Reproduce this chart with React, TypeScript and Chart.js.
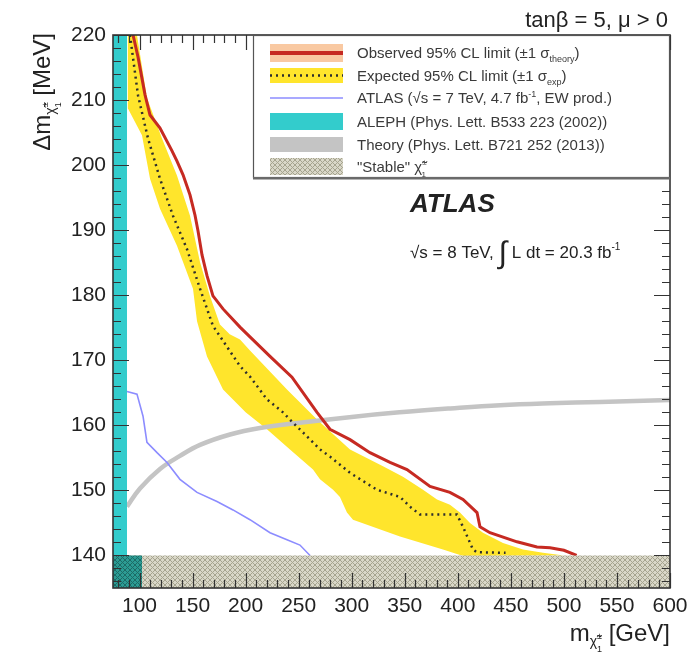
import React, { useEffect, useRef } from 'react';
import { Chart, registerables } from 'chart.js';

Chart.register(...registerables);

const FONT = '"Liberation Sans", Arial, Helvetica, sans-serif';

// ---- axis ranges & tick labels ----
const X_MIN = 75;
const X_MAX = 600;
const Y_MIN = 135;
const Y_MAX = 220;
const xTickLabels = [100, 150, 200, 250, 300, 350, 400, 450, 500, 550, 600];
const yTickLabels = [140, 150, 160, 170, 180, 190, 200, 210, 220];

// ---- observed 95% CL limit ----
const observedMass = [93.9, 98.6, 105.2, 109.9, 119.3, 130.6, 135.3, 141, 147.6, 152.3, 155.1, 158.9, 163.6, 169.2, 178.7, 194.7, 204.1, 223.0, 243.7, 267.3, 279.5, 298.4, 317.2, 336.1, 352.1, 373.8, 392.6, 404.9, 418.1, 420.9, 430.3, 455.8, 474.6, 486.9, 500, 512];
const observedDeltaM = [220, 216.6, 210.8, 207.7, 205.7, 202.2, 200.6, 198.5, 195.4, 192.3, 189.9, 186.2, 183.0, 179.9, 177.9, 175.1, 173.6, 170.6, 167.4, 162.0, 159.4, 157.8, 155.8, 154.3, 153.2, 150.6, 149.7, 148.6, 146.6, 144.4, 143.5, 142.1, 141.3, 141.2, 140.8, 140];

// ---- expected 95% CL limit ----
const expectedMass = [91, 98.6, 108, 119.3, 131.6, 144.7, 157, 169.2, 194.7, 204.1, 220.1, 235.2, 244.7, 254.1, 270.1, 279.5, 298.4, 323.8, 345.5, 354.9, 364.3, 399.2, 404.9, 414.3, 418, 445];
const expectedDeltaM = [220, 210.7, 204.1, 197.9, 192.2, 187.1, 181, 175.3, 169.1, 167.5, 164.0, 162.0, 160.4, 158.9, 156.3, 155.2, 152.7, 150.1, 149.0, 147.5, 146.3, 146.3, 144.4, 140.9, 140.5, 140.4];

// ---- expected +-1 sigma band edges ----
const bandUpperMass = [97.6, 107, 121.2, 135.3, 147.6, 157, 166.4, 175.8, 185, 194.7, 204.1, 239, 267.3, 298.4, 329.5, 348.3, 367.2, 380.4, 392.6, 402, 411.5, 423.7, 442.6, 461.4, 480.3, 500];
const bandUpperDeltaM = [220, 210.3, 204.1, 198.4, 192.2, 185.1, 179.9, 175.5, 174, 173.2, 171.5, 165.5, 160.9, 156.3, 153.7, 152.1, 150.1, 148.6, 147.8, 146.6, 145, 143.5, 141.9, 140.9, 140.4, 140];
const bandLowerMass = [89, 89.1, 102.3, 109.9, 119.3, 135.3, 150.4, 154.2, 163.6, 178.7, 200, 220.1, 241.8, 263.5, 270.1, 282.4, 288.9, 295.5, 301.2, 345.5, 386, 405];
const bandLowerDeltaM = [220, 208.7, 204.6, 197.9, 193.3, 187.6, 181, 176, 170.6, 165.5, 162, 159.4, 156.3, 153.2, 151.7, 150.1, 149.0, 146.6, 145.5, 142.9, 140.9, 139.9];

// ---- ATLAS 7 TeV EW production limit ----
const atlas7Mass = [88.2, 97.6, 103.3, 107, 116.5, 125.9, 138.1, 154.2, 173, 188.1, 204.1, 223, 239, 251.2, 260.7];
const atlas7DeltaM = [165.2, 164.8, 161.4, 157.4, 155.8, 154.3, 151.7, 149.7, 148.3, 147, 145.5, 143.5, 142.4, 141.6, 140];

// ---- theory curve ----
const theoryMass = [88.2, 100.4, 119.3, 138.1, 157, 185.3, 213.5, 251, 300, 345, 393, 440, 487, 534, 600];
const theoryDeltaM = [147.5, 150.3, 153.3, 155.3, 157.0, 158.6, 159.6, 160.4, 161.3, 162, 162.6, 163.1, 163.4, 163.6, 163.9];

// ---- excluded regions ----
const alephLimitMass = 88.2;
const stableDeltaM = 140;
const stableDarkMass = 102.5;

// ---- legend labels ----
const legendLabels = [
  'Observed 95% CL limit (±1 σ',
  'Expected 95% CL limit (±1 σ',
  'ATLAS (√s = 7 TeV, 4.7 fb',
  'ALEPH (Phys. Lett. B533 223 (2002))',
  'Theory (Phys. Lett. B721 252 (2013))',
  '"Stable" χ̃',
];

const COLORS = {
  red: '#c62a22',
  peach: '#f9c9a2',
  yellow: '#ffe52c',
  dots: '#2d2d2d',
  blue: '#8c8cff',
  cyan: '#33cccc',
  gray: '#c4c4c4',
  hatchBg: '#d9d7c8',
  hatchFg: '#a6a48f',
  darkBg: '#2c9c94',
  darkFg: '#1c6b66',
  text: '#222',
};

const zip = (xs: number[], ys: number[]) => xs.map((x, i) => ({ x, y: ys[i] }));

function makeHatch(bg: string, fg: string): CanvasPattern {
  const c = document.createElement('canvas');
  c.width = 5;
  c.height = 5;
  const g = c.getContext('2d')!;
  g.fillStyle = bg;
  g.fillRect(0, 0, 5, 5);
  g.strokeStyle = fg;
  g.lineWidth = 1;
  g.beginPath();
  g.moveTo(0, 5);
  g.lineTo(5, 0);
  g.moveTo(0, 0);
  g.lineTo(5, 5);
  g.stroke();
  return g.createPattern(c, 'repeat')!;
}

type Part = { t: string; size: number; dy?: number; dx?: number; bold?: boolean; italic?: boolean };

function fontOf(p: Part) {
  return `${p.italic ? 'italic ' : ''}${p.bold ? 'bold ' : ''}${p.size}px ${FONT}`;
}

function richWidth(ctx: CanvasRenderingContext2D, parts: Part[]) {
  let w = 0;
  for (const p of parts) {
    ctx.font = fontOf(p);
    w += ctx.measureText(p.t).width + (p.dx || 0);
  }
  return w;
}

function drawRich(ctx: CanvasRenderingContext2D, parts: Part[], x: number, y: number, align: 'left' | 'right' = 'left') {
  let cx = align === 'right' ? x - richWidth(ctx, parts) : x;
  ctx.textAlign = 'left';
  ctx.textBaseline = 'alphabetic';
  for (const p of parts) {
    ctx.font = fontOf(p);
    cx += p.dx || 0;
    ctx.fillText(p.t, cx, y + (p.dy || 0));
    cx += ctx.measureText(p.t).width;
  }
}

export default function App() {
  const ref = useRef<HTMLCanvasElement>(null);

  useEffect(() => {
    const canvas = ref.current!;
    const hatch = makeHatch(COLORS.hatchBg, COLORS.hatchFg);
    const darkHatch = makeHatch(COLORS.darkBg, COLORS.darkFg);

    const bandPolygon = [
      ...zip(bandUpperMass, bandUpperDeltaM),
      ...zip(bandLowerMass, bandLowerDeltaM).reverse(),
    ];

    const overlay = {
      id: 'rootStyle',
      afterDatasetsDraw(chart: any) {
        const { ctx, chartArea: a, scales } = chart;
        const xs = scales.x;
        const ys = scales.y;
        ctx.save();
        // ticks inside frame
        ctx.strokeStyle = '#333';
        ctx.lineWidth = 1.2;
        ctx.beginPath();
        for (let v = 80; v <= X_MAX; v += 10) {
          const px = Math.round(xs.getPixelForValue(v)) + 0.5;
          const len = v % 50 === 0 ? 15 : 8;
          ctx.moveTo(px, a.bottom);
          ctx.lineTo(px, a.bottom - len);
          ctx.moveTo(px, a.top);
          ctx.lineTo(px, a.top + len);
        }
        for (let v = 136; v <= Y_MAX; v += 2) {
          const py = Math.round(ys.getPixelForValue(v)) + 0.5;
          const len = v % 10 === 0 ? 16 : 8;
          ctx.moveTo(a.left, py);
          ctx.lineTo(a.left + len, py);
          ctx.moveTo(a.right, py);
          ctx.lineTo(a.right - len, py);
        }
        ctx.stroke();
        ctx.lineWidth = 1.6;
        ctx.strokeStyle = '#333';
        ctx.strokeRect(a.left, a.top, a.right - a.left, a.bottom - a.top);

        // legend box
        const LX0 = 253, LY0 = a.top, LX1 = a.right, LY1 = 178;
        ctx.fillStyle = '#fff';
        ctx.fillRect(LX0, LY0, LX1 - LX0, LY1 - LY0);
        ctx.strokeStyle = '#555';
        ctx.lineWidth = 1.2;
        ctx.strokeRect(LX0 + 0.5, LY0 + 0.5, LX1 - LX0 - 1, LY1 - LY0 - 1);
        ctx.fillStyle = '#6a6a6a';
        ctx.fillRect(LX0, LY1 - 1, LX1 - LX0, 2.5);

        const rows = [53, 75.5, 98, 121.5, 144.5, 166.5];
        const sx0 = 270, sx1 = 343;
        // observed
        ctx.fillStyle = COLORS.peach;
        ctx.fillRect(sx0, rows[0] - 9, sx1 - sx0, 18);
        ctx.strokeStyle = COLORS.red;
        ctx.lineWidth = 4;
        ctx.beginPath(); ctx.moveTo(sx0, rows[0]); ctx.lineTo(sx1, rows[0]); ctx.stroke();
        // expected
        ctx.fillStyle = COLORS.yellow;
        ctx.fillRect(sx0, rows[1] - 7.5, sx1 - sx0, 15);
        ctx.strokeStyle = COLORS.dots;
        ctx.lineWidth = 2.5;
        ctx.setLineDash([2, 4]);
        ctx.beginPath(); ctx.moveTo(sx0, rows[1]); ctx.lineTo(sx1, rows[1]); ctx.stroke();
        ctx.setLineDash([]);
        // atlas 7 TeV
        ctx.strokeStyle = COLORS.blue;
        ctx.lineWidth = 1.5;
        ctx.beginPath(); ctx.moveTo(sx0, rows[2]); ctx.lineTo(sx1, rows[2]); ctx.stroke();
        // aleph
        ctx.fillStyle = COLORS.cyan;
        ctx.fillRect(sx0, rows[3] - 8.5, sx1 - sx0, 17);
        // theory
        ctx.fillStyle = COLORS.gray;
        ctx.fillRect(sx0, rows[4] - 7.5, sx1 - sx0, 15);
        // stable
        ctx.fillStyle = hatch;
        ctx.fillRect(sx0, rows[5] - 8.5, sx1 - sx0, 17);

        ctx.fillStyle = '#3a3a3a';
        const tx = 357;
        const LS = 15;
        drawRich(ctx, [{ t: legendLabels[0], size: LS }, { t: 'theory', size: 9, dy: 4 }, { t: ')', size: LS }], tx, rows[0] + 5);
        drawRich(ctx, [{ t: legendLabels[1], size: LS }, { t: 'exp', size: 9, dy: 4 }, { t: ')', size: LS }], tx, rows[1] + 5);
        drawRich(ctx, [{ t: legendLabels[2], size: LS }, { t: '-1', size: 9, dy: -6 }, { t: ', EW prod.)', size: LS }], tx, rows[2] + 5);
        drawRich(ctx, [{ t: legendLabels[3], size: LS }], tx, rows[3] + 5);
        drawRich(ctx, [{ t: legendLabels[4], size: LS }], tx, rows[4] + 5);
        drawRich(ctx, [{ t: legendLabels[5], size: LS }, { t: '±', size: 8, dy: -7 }, { t: '1', size: 8, dy: 5, dx: -5 }], tx, rows[5] + 5);

        // annotations
        ctx.fillStyle = COLORS.text;
        drawRich(ctx, [{ t: 'tanβ = 5, μ > 0', size: 22 }], 668, 27, 'right');
        drawRich(ctx, [{ t: 'ATLAS', size: 26, bold: true, italic: true }], 410, 212);
        drawRich(ctx, [
          { t: '√s = 8 TeV, ', size: 17 },
          { t: '∫', size: 31, dy: 5 },
          { t: ' L dt = 20.3 fb', size: 17 },
          { t: '-1', size: 10, dy: -8 },
        ], 410, 258);

        // axis titles
        drawRich(ctx, [
          { t: 'm', size: 24 },
          { t: 'χ̃', size: 14, dy: 5 },
          { t: '±', size: 9, dy: -2 },
          { t: '1', size: 9, dy: 11, dx: -5 },
          { t: ' [GeV]', size: 24 },
        ], 670, 641, 'right');

        ctx.translate(50, 33);
        ctx.rotate(-Math.PI / 2);
        drawRich(ctx, [
          { t: 'Δm', size: 24 },
          { t: 'χ̃', size: 14, dy: 5 },
          { t: '±', size: 9, dy: -2 },
          { t: '1', size: 9, dy: 11, dx: -5 },
          { t: ' [MeV]', size: 24 },
        ], 0, 0, 'right');
        ctx.restore();
      },
    };

    const chart = new Chart(canvas, {
      type: 'line',
      data: {
        datasets: [
          {
            label: 'Expected ±1σ band',
            data: bandPolygon,
            fill: 'shape',
            backgroundColor: COLORS.yellow,
            borderWidth: 0,
            pointRadius: 0,
            order: 9,
          },
          {
            label: 'Theory',
            data: zip(theoryMass, theoryDeltaM),
            borderColor: COLORS.gray,
            borderWidth: 4.5,
            tension: 0.4,
            pointRadius: 0,
            fill: false,
            order: 8,
          },
          {
            label: 'Expected',
            data: zip(expectedMass, expectedDeltaM),
            borderColor: COLORS.dots,
            borderWidth: 2.5,
            borderDash: [2, 4],
            pointRadius: 0,
            fill: false,
            order: 7,
          },
          {
            label: 'Observed',
            data: zip(observedMass, observedDeltaM),
            borderColor: COLORS.red,
            borderWidth: 3,
            pointRadius: 0,
            fill: false,
            order: 6,
          },
          {
            label: 'ATLAS 7 TeV',
            data: zip(atlas7Mass, atlas7DeltaM),
            borderColor: COLORS.blue,
            borderWidth: 1.6,
            pointRadius: 0,
            fill: false,
            order: 5,
          },
          {
            label: 'ALEPH',
            data: [{ x: X_MIN, y: Y_MAX }, { x: alephLimitMass, y: Y_MAX }],
            backgroundColor: COLORS.cyan,
            borderWidth: 0,
            pointRadius: 0,
            fill: 'start',
            order: 4,
          },
          {
            label: 'Stable',
            data: [{ x: X_MIN, y: stableDeltaM }, { x: X_MAX, y: stableDeltaM }],
            backgroundColor: hatch,
            borderWidth: 0,
            pointRadius: 0,
            fill: 'start',
            order: 3,
          },
          {
            label: 'Stable (ALEPH)',
            data: [{ x: X_MIN, y: stableDeltaM }, { x: stableDarkMass, y: stableDeltaM }],
            backgroundColor: darkHatch,
            borderWidth: 0,
            pointRadius: 0,
            fill: 'start',
            order: 2,
          },
        ],
      },
      options: {
        animation: false,
        responsive: false,
        devicePixelRatio: 1,
        layout: { padding: { left: 0, top: 35, right: 28, bottom: 0 } },
        plugins: { legend: { display: false }, tooltip: { enabled: false } },
        elements: { point: { radius: 0 }, line: { tension: 0 } },
        scales: {
          x: {
            type: 'linear',
            min: X_MIN,
            max: X_MAX,
            grid: { display: false, drawTicks: false },
            border: { display: false },
            afterBuildTicks: (s: any) => { s.ticks = xTickLabels.map((v) => ({ value: v })); },
            afterFit: (s: any) => { s.height = 69; s.paddingLeft = 0; s.paddingRight = 0; },
            ticks: {
              autoSkip: false,
              maxRotation: 0,
              padding: 6,
              color: COLORS.text,
              font: { family: FONT, size: 21 },
              callback: (v: any) => String(v),
            },
          },
          y: {
            type: 'linear',
            min: Y_MIN,
            max: Y_MAX,
            grid: { display: false, drawTicks: false },
            border: { display: false },
            afterBuildTicks: (s: any) => { s.ticks = yTickLabels.map((v) => ({ value: v })); },
            afterFit: (s: any) => { s.width = 113; s.paddingTop = 0; s.paddingBottom = 0; },
            ticks: {
              autoSkip: false,
              padding: 7,
              color: COLORS.text,
              font: { family: FONT, size: 21 },
              callback: (v: any) => String(v),
            },
          },
        },
      },
      plugins: [overlay],
    } as any);

    return () => chart.destroy();
  }, []);

  return (
    <div style={{ position: 'fixed', left: 0, top: 0, width: 698, height: 657, background: '#fff' }}>
      <canvas ref={ref} width={698} height={657} style={{ display: 'block', width: 698, height: 657 }} />
    </div>
  );
}
